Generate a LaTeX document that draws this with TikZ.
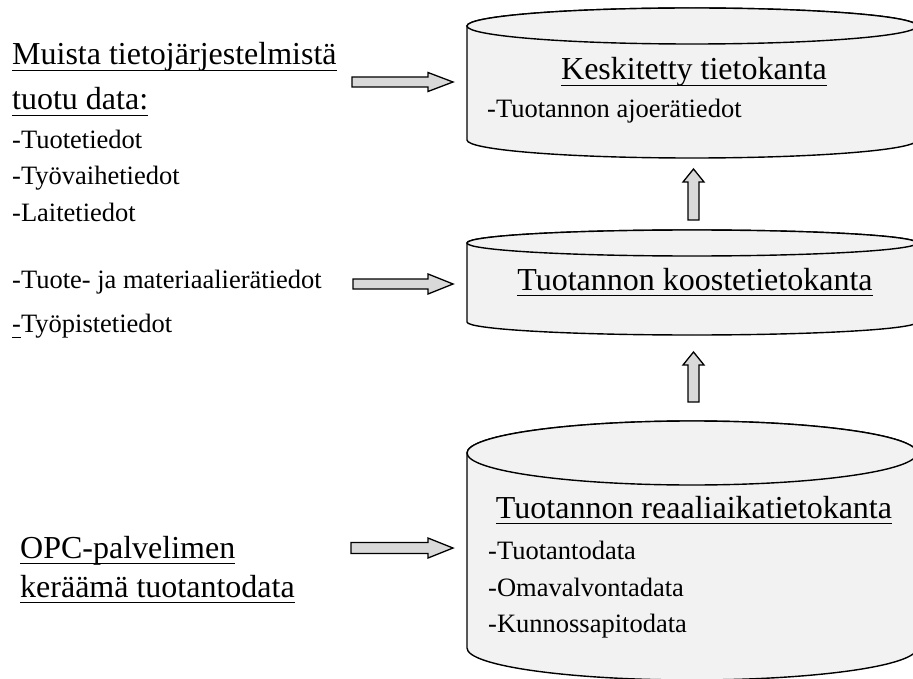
\documentclass[tikz,border=0pt]{standalone}
\usepackage{fontspec}
\setmainfont{Liberation Serif}
\usetikzlibrary{calc}

\definecolor{cylfill}{HTML}{F2F2F2}
\definecolor{arrowfill}{HTML}{D9D9D9}

% text underlined at a fixed distance below the baseline
\newcommand\undl[1]{\setbox0=\hbox{#1}\rlap{\rule[-6.2pt]{\wd0}{1.4pt}}\box0}

% block arrow from #1 to #2: head length #3, shaft half width #4, head half width #5
\newcommand\blockarrow[5]{%
  \coordinate (ba-h) at ($(#2)!#3!(#1)$);
  \draw[barrow] ($(#1)!#4!90:(#2)$) -- ($(ba-h)!#4!90:(#2)$) -- ($(ba-h)!#5!90:(#2)$)
    -- (#2) -- ($(ba-h)!#5!-90:(#2)$) -- ($(ba-h)!#4!-90:(#2)$) -- ($(#1)!#4!-90:(#2)$) -- cycle;}

% database cylinder: name #1, centre x #2, top rim y #3, bottom rim y #4, rx #5, ry #6
\newcommand\dbcylinder[6]{%
  \draw[cylbody] (#2-#5,#3) -- (#2-#5,#4)
    arc[start angle=180, end angle=360, x radius=#5pt, y radius=#6pt]
    -- (#2+#5,#3)
    arc[start angle=0, end angle=180, x radius=#5pt, y radius=#6pt] -- cycle;
  \draw[cylbody] (#2,#3) ellipse[x radius=#5pt, y radius=#6pt];
  \coordinate (#1) at (#2,{(#3+#4)/2});}

\tikzset{
  cylbody/.style={draw=black, fill=cylfill, line width=1.4pt},
  barrow/.style={draw=black, fill=arrowfill, line width=1.3pt, line join=miter},
  title/.style={inner sep=0pt, font=\fontsize{32}{38}\selectfont},
  item/.style={inner sep=0pt, anchor=base west, font=\fontsize{26.5}{32}\selectfont},
}

\begin{document}
\begin{tikzpicture}[x=1pt, y=-1pt]
\useasboundingbox (0,0) rectangle (913,679);

% the three databases
\dbcylinder{central}{692}{26}{140}{225}{18}
\dbcylinder{summary}{692}{243}{322}{225}{13}
\dbcylinder{realtime}{692}{453}{648}{225}{32}

% texts inside the databases
\node[title, anchor=base] (centralT) at (694,80) {\undl{Keskitetty tietokanta}};
\node[item] (centralI) at (487,118) {-Tuotannon ajoerätiedot};

\node[title, anchor=base] (summaryT) at (695,290) {\undl{Tuotannon koostetietokanta}};

\node[title, anchor=base] (realtimeT) at (694,518) {\undl{Tuotannon reaaliaikatietokanta}};
\node[item] (rtA) at (488,559) {-Tuotantodata};
\node[item] (rtB) at (488,596) {-Omavalvontadata};
\node[item] (rtC) at (488,632) {-Kunnossapitodata};

% data sources on the left
\node[title, anchor=base west] (srcA1) at (12,65) {\undl{Muista tietojärjestelmistä}};
\node[title, anchor=base west] (srcA2) at (12,110) {\undl{tuotu data:}};
\node[item] (srcA3) at (12,149) {-Tuotetiedot};
\node[item] (srcA4) at (12,185) {-Työvaihetiedot};
\node[item] (srcA5) at (12,222) {-Laitetiedot};

\node[item] (srcB1) at (12,288) {-Tuote- ja materiaalierätiedot};
\node[item] (srcB2) at (12,332) {\undl{-}Työpistetiedot};

\node[title, anchor=base west] (srcC1) at (20,558) {\undl{OPC-palvelimen}};
\node[title, anchor=base west] (srcC2) at (20,597) {\undl{keräämä tuotantodata}};

% arrow end points
\coordinate (a1s) at (352,82);  \coordinate (a1e) at (453,82);
\coordinate (a2s) at (353,284); \coordinate (a2e) at (453,284);
\coordinate (a3s) at (351,548); \coordinate (a3e) at (453,548);
\coordinate (u1s) at (693.5,220); \coordinate (u1e) at (693.5,169);
\coordinate (u2s) at (693.5,402); \coordinate (u2e) at (693.5,352);

% flows into the databases
\blockarrow{a1s}{a1e}{25pt}{5pt}{9.5pt}
\blockarrow{a2s}{a2e}{25pt}{5pt}{10pt}
\blockarrow{a3s}{a3e}{25pt}{5.5pt}{10pt}
\blockarrow{u1s}{u1e}{13pt}{5.5pt}{10.5pt}
\blockarrow{u2s}{u2e}{13pt}{5.5pt}{10.5pt}
\end{tikzpicture}
\end{document}
